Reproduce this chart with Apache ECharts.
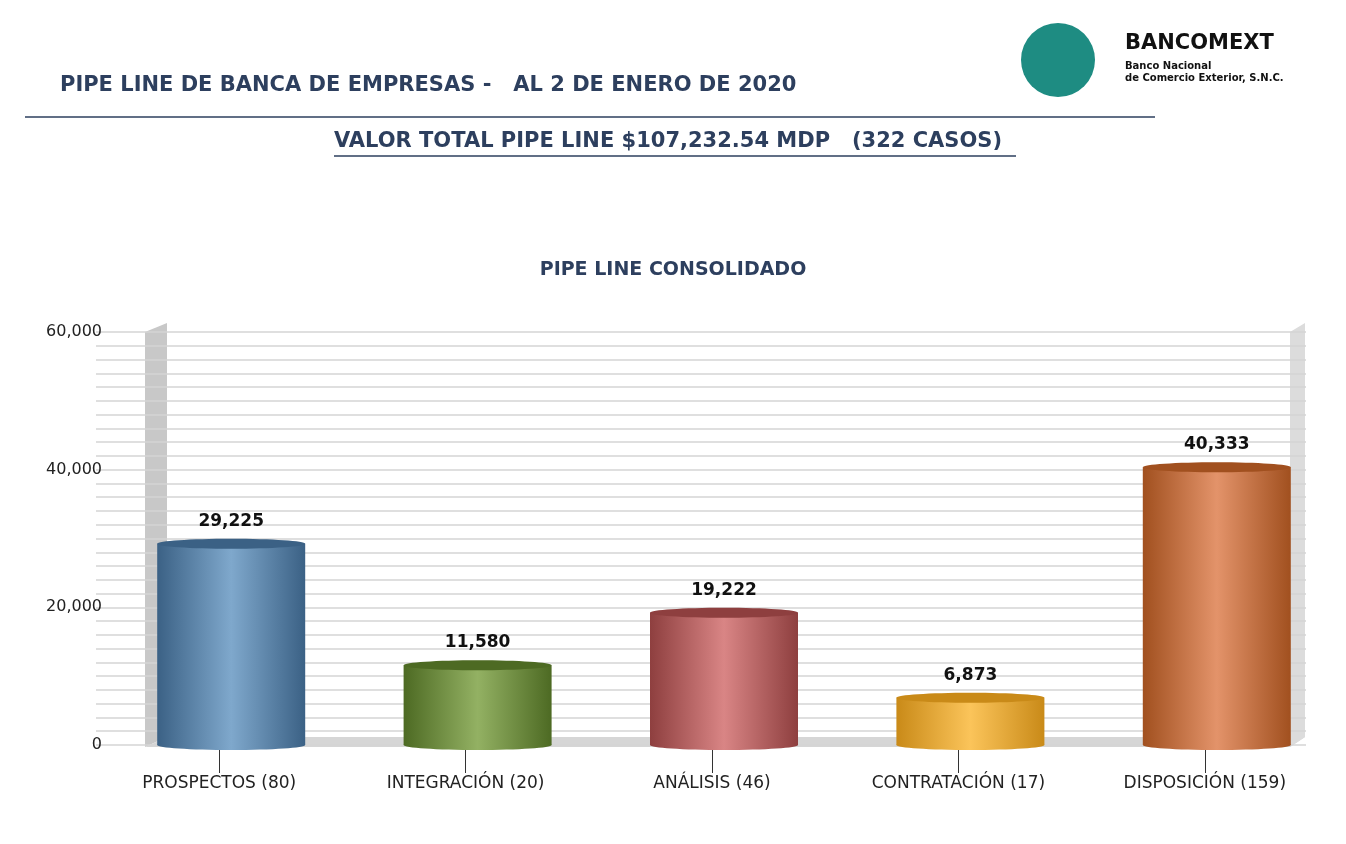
<!doctype html>
<html>
<head>
<meta charset="utf-8">
<script src="https://cdn.jsdelivr.net/npm/echarts@6/dist/echarts.min.js"></script>
</head>
<body style="margin:0">
<div id="main" style="width:1346px;height:844px;"></div>
<script>
var categories = ['PROSPECTOS (80)', 'INTEGRACIÓN (20)', 'ANÁLISIS (46)', 'CONTRATACIÓN (17)', 'DISPOSICIÓN (159)'];
var values = [29225, 11580, 19222, 6873, 40333];
var colors = [
  ['#3b6185', '#7fa8cc', '#3b6185'],
  ['#4d6a23', '#93b163', '#4d6a23'],
  ['#8e3f3f', '#d98585', '#8e3f3f'],
  ['#c98a18', '#fbc45a', '#c98a18'],
  ['#a1501f', '#e3936a', '#a1501f']
];
var FONT = '"DejaVu Sans", Arial, sans-serif';

var chart = echarts.init(document.getElementById('main'));

function renderCyl(params, api) {
  var i = api.value(0);
  var top = api.coord([i, api.value(1)]);
  var base = api.coord([i, 0]);
  var cx = top[0] + 12;
  var w = 148, h = 10;
  var c = colors[i];
  var grad = new echarts.graphic.LinearGradient(0, 0, 1, 0, [
    {offset: 0, color: c[0]}, {offset: 0.5, color: c[1]}, {offset: 1, color: c[2]}
  ]);
  return {
    type: 'group',
    children: [
      {type: 'rect', shape: {x: cx - w / 2, y: top[1], width: w, height: base[1] - top[1]}, style: {fill: grad}},
      {type: 'ellipse', shape: {cx: cx, cy: base[1], rx: w / 2, ry: h / 2}, style: {fill: grad}},
      {type: 'ellipse', shape: {cx: cx, cy: top[1], rx: w / 2, ry: h / 2}, style: {fill: c[0]}},
      {type: 'text', style: {x: cx, y: top[1] - 14, text: echarts.format.addCommas(api.value(1)),
        textAlign: 'center', textVerticalAlign: 'bottom', font: 'bold 17px ' + FONT, fill: '#111'}}
    ]
  };
}

chart.setOption({
  animation: false,
  title: [
    {text: 'PIPE LINE DE BANCA DE EMPRESAS -   AL 2 DE ENERO DE 2020', left: 55, top: 70,
      textStyle: {color: '#2d3f5e', fontSize: 21, fontWeight: 'bold', fontFamily: FONT}},
    {text: 'PIPE LINE CONSOLIDADO', left: 668, top: 256, textAlign: 'center',
      textStyle: {color: '#2d3f5e', fontSize: 19, fontWeight: 'bold', fontFamily: FONT}}
  ],
  graphic: [
    {type: 'line', shape: {x1: 25, y1: 117, x2: 1155, y2: 117}, style: {stroke: '#2d3f5e', lineWidth: 1.5}},
    {type: 'text', left: 334, top: 131, style: {text: 'VALOR TOTAL PIPE LINE $107,232.54 MDP   (322 CASOS)',
      font: 'bold 21px ' + FONT, fill: '#2d3f5e'}},
    {type: 'line', shape: {x1: 334, y1: 156, x2: 1016, y2: 156}, style: {stroke: '#2d3f5e', lineWidth: 1.5}},
    {type: 'circle', shape: {cx: 1058, cy: 60, r: 37}, style: {fill: '#1e8c82'}},
    {type: 'text', left: 1125, top: 33, style: {text: 'BANCOMEXT', font: 'bold 21px ' + FONT, fill: '#111'}},
    {type: 'text', left: 1125, top: 60, style: {text: 'Banco Nacional\nde Comercio Exterior, S.N.C.', font: 'bold 10px ' + FONT, fill: '#111', lineHeight: 12}},
    // 3D wall and floor
    {type: 'polygon', shape: {points: [[145, 332], [167, 323], [167, 737], [145, 747]]}, style: {fill: '#c8c8c8'}},
    {type: 'polygon', shape: {points: [[145, 747], [167, 737], [1305, 737], [1290, 747]]}, style: {fill: '#d6d6d6'}},
    {type: 'polygon', shape: {points: [[1290, 332], [1305, 323], [1305, 737], [1290, 747]]}, style: {fill: '#dcdcdc'}},
    {type: 'rect', z: 100, shape: {x: 1306, y: 320, width: 30, height: 440}, style: {fill: '#fff'}}
  ],
  grid: {left: 96, right: 18, top: 332, bottom: 99},
  xAxis: {
    type: 'category', data: categories,
    axisLine: {show: false},
    axisTick: {show: true, alignWithLabel: true, length: 28, lineStyle: {color: '#333'}},
    axisLabel: {margin: 30, color: '#222', fontSize: 17, fontFamily: FONT}
  },
  yAxis: {
    type: 'value', min: 0, max: 60000, interval: 2000,
    axisLine: {show: false}, axisTick: {show: false},
    axisLabel: {color: '#222', fontSize: 16, fontFamily: FONT, margin: -6,
      formatter: function (v) { return v % 20000 === 0 ? echarts.format.addCommas(v) : ''; }},
    splitLine: {lineStyle: {color: '#d4d4d4', width: 1.5}}
  },
  series: [{
    type: 'custom',
    renderItem: renderCyl,
    encode: {x: 0, y: 1},
    data: values.map(function (v, i) { return [i, v]; })
  }]
});
</script>
</body>
</html>
